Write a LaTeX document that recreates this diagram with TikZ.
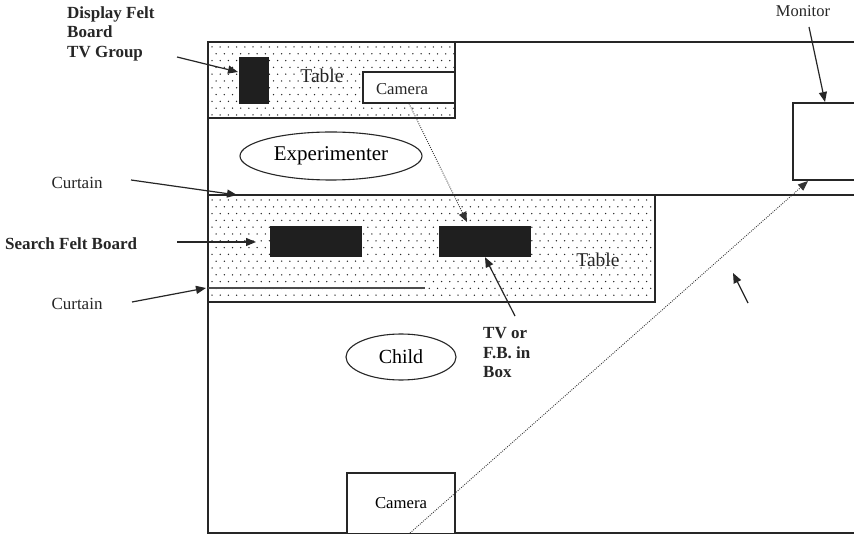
\documentclass[tikz,border=0pt]{standalone}
\usepackage{fontspec}
\setmainfont{Liberation Serif}
\usetikzlibrary{arrows.meta,shapes.geometric}
\begin{document}
\begin{tikzpicture}[x=1pt,y=-1pt,
  frame/.style={draw=black!85,line width=1.2pt},
  box/.style={draw=black!85,line width=1.2pt,fill=white,rectangle,inner sep=0},
  blk/.style={fill=black!88,draw=none,rectangle,inner sep=0},
  oval/.style={draw=black!85,line width=1.1pt,ellipse,inner sep=0},
  lab/.style={font=\bfseries\fontsize{17}{19.5}\selectfont,align=left,inner sep=0,anchor=north west,text=black!85},
  txt/.style={font=\fontsize{17}{20}\selectfont,inner sep=0,text=black!85},
  arr/.style={draw=black!85,line width=1.2pt,-{Triangle[length=10pt,width=8pt]}},
  dotarr/.style={draw=black!80,line width=0.9pt,dash pattern=on 0.9pt off 1.3pt,-{Triangle[length=10pt,width=8pt]}},
  dotc/.style={fill=black!85}
]
\fill[white] (0,0) rectangle (854,534);
\useasboundingbox (0,0) rectangle (854,534);

% dotted table fills
\begin{scope}
\clip (208,42) rectangle (455,118);
\foreach \r in {0,...,10} {\foreach \c in {0,...,30} {
  \fill[dotc] ({212+8.2*\c+4.1*mod(\r,2)},{47+6.8*\r}) circle (0.75pt);}}
\end{scope}
\begin{scope}
\clip (208,195) rectangle (655,302);
\foreach \r in {0,...,15} {\foreach \c in {0,...,55} {
  \fill[dotc] ({212+8.2*\c+4.1*mod(\r,2)},{200+6.8*\r}) circle (0.75pt);}}
\end{scope}

% room frame
\draw[frame] (854,42) -- (208,42) -- (208,533) -- (854,533);
\draw[frame] (208,195) -- (854,195);
\draw[frame] (208,42) rectangle (455,118);
\draw[frame] (208,195) rectangle (655,302);
\draw[draw=black!70,line width=1.2pt] (208,288) -- (425,288);

% objects
\node[blk,minimum width=30pt,minimum height=47pt] (dfb) at (254,80.5) {};
\node[box,minimum width=92pt,minimum height=31pt] (camtop) at (409,87.5) {};
\node[txt,anchor=base,font=\fontsize{16.7}{20}\selectfont] (camtoptxt) at (402,95) {Camera};
\node[txt,anchor=base,font=\fontsize{19.5}{22}\selectfont] (table1) at (322,83) {Table};
\node[oval,minimum width=182pt,minimum height=48pt,font=\fontsize{21}{24}\selectfont] (exp) at (331,156) {Experimenter};
\node[box,minimum width=70pt,minimum height=77pt] (monitor) at (828,141.5) {};
\node[blk,minimum width=92pt,minimum height=31pt] (sfb1) at (316,241.5) {};
\node[blk,minimum width=92pt,minimum height=31pt] (sfb2) at (485,241.5) {};
\node[txt,anchor=base,font=\fontsize{19.5}{22}\selectfont] (table2) at (598,267) {Table};
\node[oval,minimum width=110pt,minimum height=46pt,font=\fontsize{20}{24}\selectfont] (child) at (401,357) {Child};
\node[box,minimum width=108pt,minimum height=61pt,font=\fontsize{16.7}{20}\selectfont] (cambot) at (401,503.5) {Camera};

% labels
\node[lab] (dfbl) at (67,6.5) {Display Felt\\Board\\TV Group};
\node[txt,anchor=base,font=\fontsize{16.5}{20}\selectfont] (monl) at (803,17) {Monitor};
\node[txt] (cur1) at (77,183) {Curtain};
\node[txt] (cur2) at (77,304) {Curtain};
\node[lab,anchor=base west] (sfbl) at (5,250) {Search Felt Board};
\node[lab] (tvl) at (483,327.5) {TV or\\F.B. in\\Box};

% connector ends
\coordinate (t1) at (177,57);
\coordinate (h1) at (238,72);
\coordinate (t2) at (809,27);
\coordinate (h2) at (825,102);
\coordinate (t3) at (131,180);
\coordinate (h3) at (237,195);
\coordinate (t4) at (177,242);
\coordinate (h4) at (256,242);
\coordinate (t5) at (132,302);
\coordinate (h5) at (206,288);
\coordinate (t6) at (515,316);
\coordinate (h7) at (467,222);
\coordinate (t8) at (410,533);
\coordinate (h8) at (808,181);
\coordinate (t9) at (748,303);
\coordinate (h9) at (733,273);

\draw[arr] (t1) -- (h1);
\draw[arr] (t2) -- (h2);
\draw[arr] (t3) -- (h3);
\draw[arr] (t4) -- (h4);
\draw[arr] (t5) -- (h5);
\draw[arr] (t6) -- (sfb2.south);
\draw[dotarr] (camtop.south) -- (h7);
\draw[dotarr] (t8) -- (h8);
\draw[arr] (t9) -- (h9);
\end{tikzpicture}
\end{document}
